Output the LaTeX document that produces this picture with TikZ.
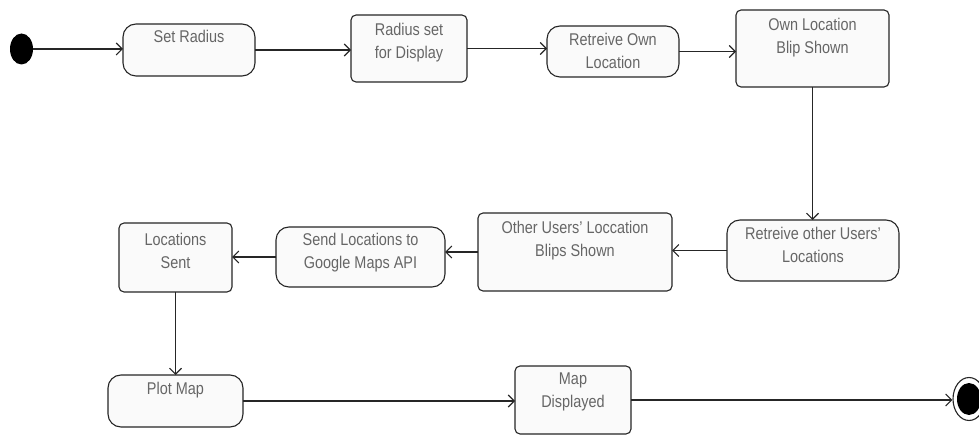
\documentclass[tikz,border=0pt]{standalone}
\usepackage{fontspec}
\setmainfont[FakeStretch=0.85]{Liberation Sans}
\usetikzlibrary{arrows.meta,shapes.geometric}
\begin{document}
\begin{tikzpicture}[x=1pt,y=-1pt,
  base/.style={draw=black!85, line width=1.1pt, fill=black!2, inner sep=0pt, outer sep=0pt},
  act/.style={base, rectangle, rounded corners=13pt},
  st/.style={base, rectangle, rounded corners=5pt},
  captext/.style={anchor=north, inner sep=0pt, align=center, text=black!60,
              font=\fontsize{17}{23}\selectfont},
  flow/.style={draw=black!85, line width=1.1pt, -{Straight Barb[length=6pt,width=12pt]}},
]
\useasboundingbox (0,0) rectangle (979,435);

% start and end markers
\node[ellipse, fill=black, inner sep=0pt, minimum width=23pt, minimum height=31pt] (init) at (21.5,49) {};
\node[ellipse, draw=black!85, line width=1.1pt, fill=white, inner sep=0pt,
      minimum width=32pt, minimum height=43pt] (final) at (969,399) {};
\node[ellipse, fill=black, inner sep=0pt, minimum width=24pt, minimum height=32pt] (finaldot) at (final.center) {};

% top row
\node[act, minimum width=132pt, minimum height=52pt] (setr) at (189,50) {};
\node[captext] (setrT) at ([yshift=-6pt]setr.north) {Set Radius};

\node[st, minimum width=116pt, minimum height=67pt] (radius) at (409,48.5) {};
\node[captext] (radiusT) at ([yshift=-8pt]radius.north) {Radius set\\for Display};

\node[act, minimum width=132pt, minimum height=51pt] (retown) at (613,51.5) {};
\node[captext] (retownT) at ([yshift=-7pt]retown.north) {Retreive Own\\Location};

\node[st, minimum width=153pt, minimum height=77pt] (ownblip) at (812.5,48.5) {};
\node[captext] (ownblipT) at ([yshift=-8pt]ownblip.north) {Own Location\\Blip Shown};

% middle row
\node[act, minimum width=172pt, minimum height=61pt] (retother) at (813,250.5) {};
\node[captext] (retotherT) at ([yshift=-7pt]retother.north) {Retreive other Users'\\Locations};

\node[st, minimum width=194pt, minimum height=78pt] (other) at (575,252) {};
\node[captext] (otherT) at ([yshift=-8pt]other.north) {Other Users' Loccation\\Blips Shown};

\node[act, minimum width=169pt, minimum height=60pt] (send) at (360.5,257) {};
\node[captext] (sendT) at ([yshift=-6pt]send.north) {Send Locations to\\Google Maps API};

\node[st, minimum width=113pt, minimum height=69pt] (locsent) at (175.5,257.5) {};
\node[captext] (locsentT) at ([yshift=-10pt]locsent.north) {Locations\\Sent};

% bottom row
\node[act, minimum width=135pt, minimum height=52pt] (plot) at (175.5,401) {};
\node[captext] (plotT) at ([yshift=-7pt]plot.north) {Plot Map};

\node[st, minimum width=116pt, minimum height=68pt] (mapdisp) at (573,400) {};
\node[captext] (mapdispT) at ([yshift=-7pt]mapdisp.north) {Map\\Displayed};

% transitions
\draw[flow] (init.east) -- (init.east -| setr.west);
\draw[flow] (setr.east) -- (setr.east -| radius.west);
\draw[flow] (radius.east) -- (radius.east -| retown.west);
\draw[flow] (retown.east) -- (retown.east -| ownblip.west);
\draw[flow] (ownblip.south) -- (ownblip.south |- retother.north);
\draw[flow] (retother.west) -- (retother.west -| other.east);
\draw[flow] (other.west) -- (other.west -| send.east);
\draw[flow] (send.west) -- (send.west -| locsent.east);
\draw[flow] (locsent.south) -- (locsent.south |- plot.north);
\draw[flow] (plot.east) -- (plot.east -| mapdisp.west);
\draw[flow] (mapdisp.east) -- (mapdisp.east -| final.west);
\end{tikzpicture}
\end{document}
